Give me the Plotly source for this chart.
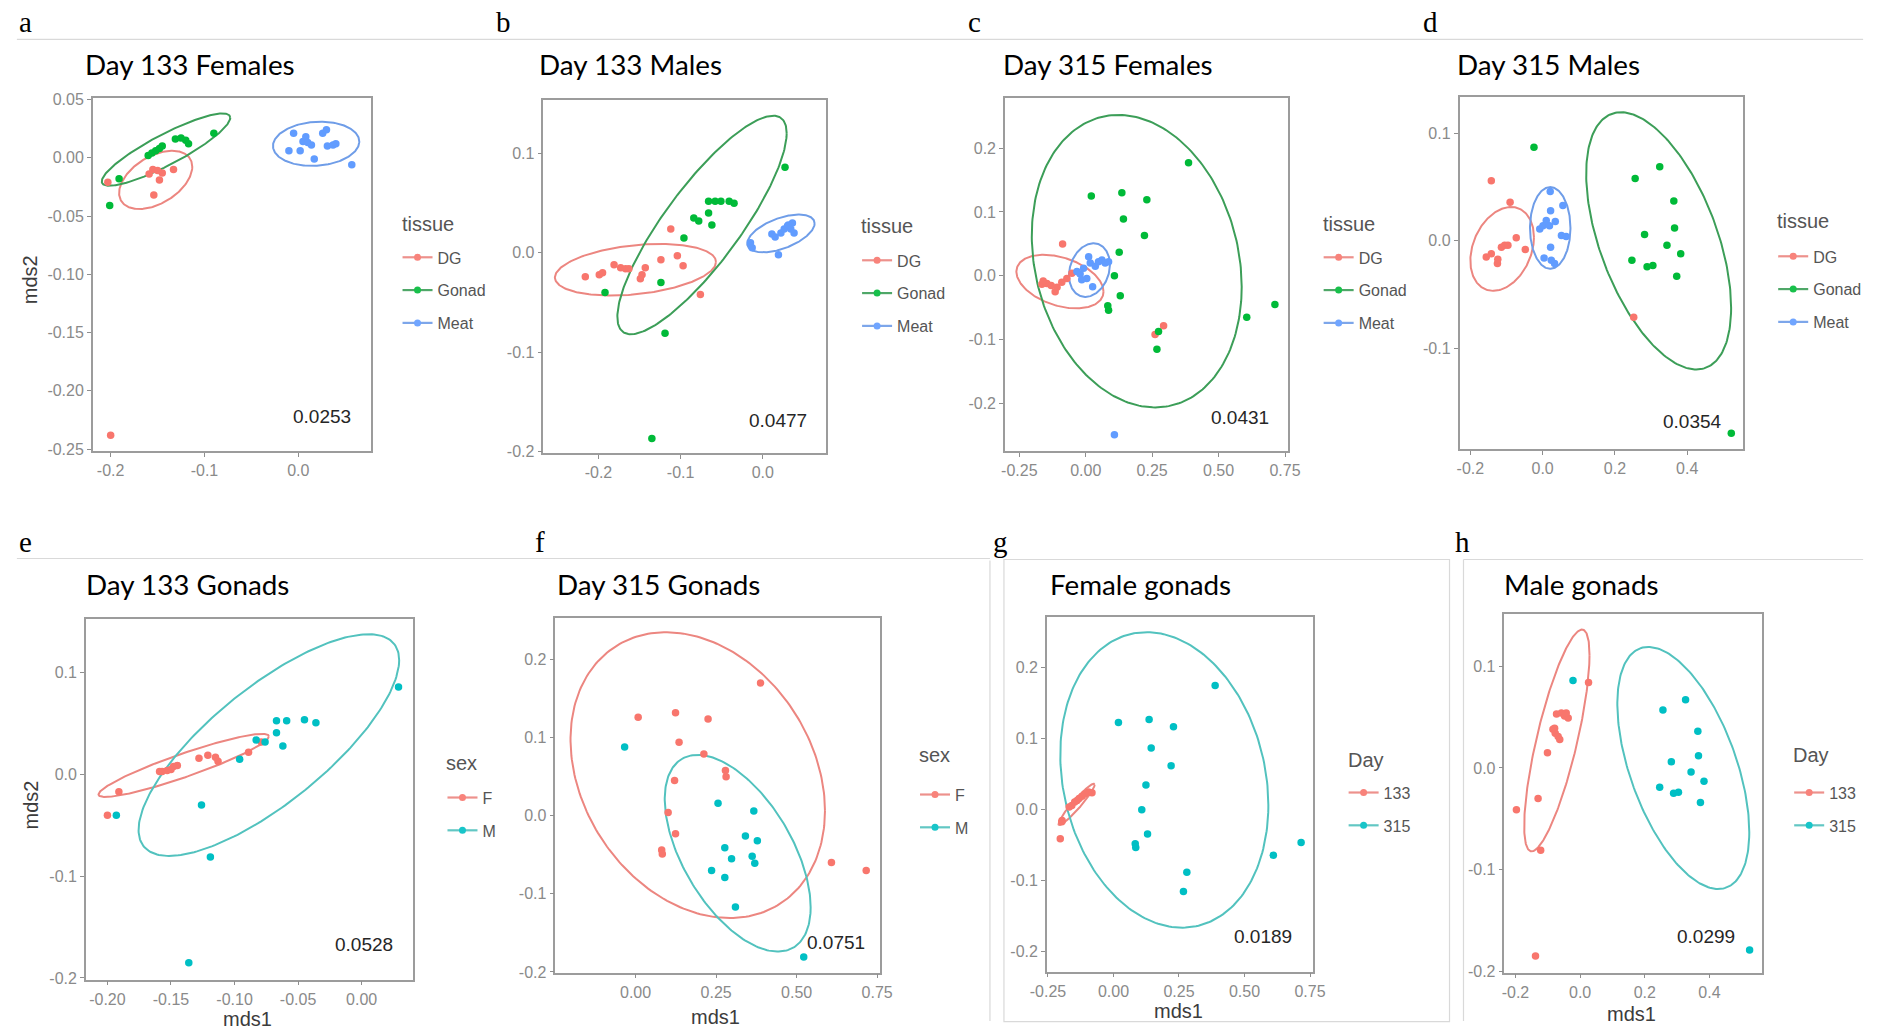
import numpy as np
import plotly.graph_objects as go

W, H = 1881, 1029
# positions below are given on a page grid that is scaled by GRID_SCALE about the page centre
GRID_SCALE = 0.985

RED = "#F8766D"
GREEN = "#00BA38"
BLUE = "#619CFF"
CYAN = "#00BFC4"
# outline tones used for the confidence ellipses and legend keys
RED_LINE = "#EC8680"
GREEN_LINE = "#3C9E58"
BLUE_LINE = "#6F9DE8"
CYAN_LINE = "#52C2BE"

# ---------------- Panel a: Day 133 Females ----------------
A_DG_X = [-0.203, -0.159, -0.155, -0.150, -0.148, -0.145, -0.133, -0.154, -0.200]
A_DG_Y = [-0.021, -0.014, -0.010, -0.011, -0.019, -0.013, -0.010, -0.032, -0.238]
A_GONAD_X = [-0.201, -0.191, -0.160, -0.156, -0.152, -0.148, -0.145, -0.131, -0.125, -0.120, -0.117, -0.090]
A_GONAD_Y = [-0.041, -0.018, 0.002, 0.004, 0.006, 0.008, 0.010, 0.016, 0.017, 0.015, 0.012, 0.021]
A_MEAT_X = [-0.010, -0.005, 0.002, 0.005, 0.008, 0.010, 0.014, 0.017, 0.026, 0.030, 0.031, 0.037, 0.040, 0.057]
A_MEAT_Y = [0.006, 0.021, 0.006, 0.014, 0.018, 0.013, 0.011, -0.001, 0.021, 0.024, 0.010, 0.011, 0.012, -0.006]
# ellipse parameters: centre x, centre y, x half-extent, y half-extent, correlation
A_DG_ELL = (-0.152, -0.019, 0.039, 0.025, 0.45)
A_GONAD_ELL = (-0.141, 0.007, 0.0685, 0.031, 0.88)
A_MEAT_ELL = (0.019, 0.012, 0.046, 0.019, 0.10)

# ---------------- Panel b: Day 133 Males ----------------
B_DG_X = [-0.216, -0.199, -0.195, -0.181, -0.173, -0.167, -0.163, -0.149, -0.147, -0.143, -0.124, -0.112, -0.104, -0.097, -0.076]
B_DG_Y = [-0.024, -0.022, -0.020, -0.012, -0.015, -0.016, -0.016, -0.026, -0.022, -0.015, -0.007, 0.024, -0.003, -0.013, -0.042]
B_GONAD_X = [-0.192, -0.124, -0.096, -0.084, -0.078, -0.066, -0.062, -0.066, -0.058, -0.051, -0.041, -0.035, 0.027, -0.119, -0.135]
B_GONAD_Y = [-0.040, -0.030, 0.015, 0.035, 0.032, 0.040, 0.028, 0.052, 0.052, 0.052, 0.052, 0.050, 0.086, -0.081, -0.187]
B_MEAT_X = [-0.015, -0.013, 0.011, 0.015, 0.019, 0.022, 0.026, 0.030, 0.034, 0.036, 0.038, 0.031]
B_MEAT_Y = [0.010, 0.005, 0.019, 0.016, -0.002, 0.020, 0.024, 0.027, 0.024, 0.030, 0.020, 0.028]
B_DG_ELL = (-0.155, -0.017, 0.098, 0.026, 0.30)
B_GONAD_ELL = (-0.074, 0.028, 0.103, 0.110, 0.84)
B_MEAT_ELL = (0.022, 0.0195, 0.041, 0.019, 0.53)

# ---------------- Panel c: Day 315 Females ----------------
C_DG_X = [-0.087, -0.165, -0.146, -0.130, -0.108, -0.115, -0.090, -0.071, -0.052, -0.160, 0.261, 0.293]
C_DG_Y = [0.050, -0.013, -0.012, -0.015, -0.018, -0.025, -0.010, -0.004, 0.004, -0.008, -0.092, -0.078]
C_GONAD_X = [0.387, 0.021, 0.136, 0.230, 0.142, 0.221, 0.126, 0.108, 0.130, 0.083, 0.086, 0.274, 0.268, 0.606, 0.712]
C_GONAD_Y = [0.177, 0.125, 0.130, 0.119, 0.089, 0.063, 0.037, 0.000, -0.031, -0.047, -0.054, -0.087, -0.115, -0.065, -0.045]
C_MEAT_X = [-0.033, -0.021, -0.008, 0.004, 0.011, 0.017, 0.026, 0.036, 0.048, 0.061, 0.073, 0.086, -0.015, 0.108]
C_MEAT_Y = [0.007, 0.003, 0.012, -0.004, 0.030, 0.020, -0.017, 0.015, 0.022, 0.025, 0.020, 0.022, -0.006, -0.249]
C_DG_ELL = (-0.097, -0.009, 0.164, 0.042, -0.37)
C_GONAD_ELL = (0.192, 0.023, 0.395, 0.229, -0.175)
C_MEAT_ELL = (0.014, 0.009, 0.077, 0.042, 0.20)

# ---------------- Panel d: Day 315 Males ----------------
D_DG_X = [-0.142, -0.090, -0.156, -0.142, -0.125, -0.124, -0.114, -0.105, -0.096, -0.073, -0.048, 0.252]
D_DG_Y = [0.056, 0.036, -0.015, -0.012, -0.021, -0.017, -0.006, -0.004, -0.004, 0.003, -0.008, -0.071]
D_GONAD_X = [-0.024, 0.256, 0.324, 0.363, 0.365, 0.282, 0.344, 0.382, 0.247, 0.289, 0.305, 0.371, 0.522]
D_GONAD_Y = [0.087, 0.058, 0.069, 0.037, 0.012, 0.006, -0.004, -0.012, -0.018, -0.024, -0.023, -0.033, -0.179]
D_MEAT_X = [0.021, 0.056, 0.022, -0.008, 0.001, 0.010, 0.019, 0.035, 0.052, 0.065, 0.022, 0.004, 0.024, 0.033]
D_MEAT_Y = [0.046, 0.033, 0.028, 0.011, 0.014, 0.019, 0.014, 0.018, 0.005, 0.004, -0.006, -0.016, -0.018, -0.021]
D_DG_ELL = (-0.112, -0.0075, 0.088, 0.039, 0.28)
D_GONAD_ELL = (0.321, 0.000, 0.2005, 0.1196, -0.52)
D_MEAT_ELL = (0.021, 0.012, 0.056, 0.038, 0.0)

# ---------------- Panel e: Day 133 Gonads ----------------
E_F_X = [-0.200, -0.191, -0.159, -0.157, -0.153, -0.150, -0.148, -0.145, -0.128, -0.121, -0.115, -0.113, -0.089, -0.079]
E_F_Y = [-0.040, -0.017, 0.003, 0.003, 0.004, 0.005, 0.008, 0.009, 0.016, 0.019, 0.017, 0.013, 0.022, 0.032]
E_M_X = [-0.193, -0.126, -0.119, -0.136, -0.096, -0.083, -0.076, -0.067, -0.067, -0.059, -0.062, -0.045, -0.036, 0.029]
E_M_Y = [-0.040, -0.030, -0.081, -0.185, 0.015, 0.034, 0.032, 0.041, 0.053, 0.053, 0.028, 0.054, 0.051, 0.086]
E_F_ELL = (-0.140, 0.009, 0.067, 0.031, 0.92)
E_M_ELL = (-0.073, 0.029, 0.1025, 0.109, 0.765)

# ---------------- Panel f: Day 315 Gonads ----------------
F_F_X = [0.008, 0.124, 0.225, 0.388, 0.135, 0.212, 0.279, 0.281, 0.121, 0.101, 0.124, 0.081, 0.083, 0.608, 0.716]
F_F_Y = [0.126, 0.132, 0.124, 0.170, 0.094, 0.079, 0.058, 0.050, 0.045, 0.004, -0.023, -0.044, -0.049, -0.060, -0.070]
F_M_X = [-0.034, 0.256, 0.367, 0.341, 0.378, 0.277, 0.298, 0.362, 0.370, 0.236, 0.277, 0.310, 0.522]
F_M_Y = [0.088, 0.016, 0.006, -0.026, -0.032, -0.041, -0.055, -0.052, -0.061, -0.070, -0.079, -0.117, -0.181]
F_F_ELL = (0.193, 0.052, 0.395, 0.183, -0.25)
F_M_ELL = (0.317, -0.048, 0.2265, 0.126, -0.55)

# ---------------- Panel g: Female gonads ----------------
G_133_X = [-0.203, -0.197, -0.196, -0.169, -0.159, -0.148, -0.139, -0.131, -0.120, -0.110, -0.095, -0.082]
G_133_Y = [-0.041, -0.017, -0.015, 0.004, 0.006, 0.011, 0.013, 0.016, 0.019, 0.022, 0.025, 0.024]
G_315_X = [0.019, 0.136, 0.229, 0.388, 0.144, 0.220, 0.124, 0.108, 0.130, 0.083, 0.085, 0.280, 0.267, 0.610, 0.716]
G_315_Y = [0.123, 0.127, 0.117, 0.175, 0.087, 0.062, 0.035, 0.000, -0.034, -0.048, -0.053, -0.088, -0.115, -0.064, -0.046]
G_133_ELL = (-0.141, 0.0075, 0.069, 0.029, 0.95)
G_315_ELL = (0.194, 0.042, 0.397, 0.208, -0.17)

# ---------------- Panel h: Male gonads ----------------
H_133_X = [-0.197, -0.130, -0.122, -0.138, -0.101, -0.084, -0.077, -0.068, -0.063, -0.079, -0.073, -0.058, -0.048, -0.037, -0.043, 0.026]
H_133_Y = [-0.041, -0.030, -0.081, -0.185, 0.015, 0.038, 0.034, 0.031, 0.028, 0.039, 0.053, 0.054, 0.051, 0.049, 0.054, 0.084]
H_315_X = [-0.022, 0.256, 0.326, 0.364, 0.366, 0.282, 0.343, 0.383, 0.246, 0.289, 0.304, 0.372, 0.524]
H_315_Y = [0.086, 0.057, 0.067, 0.036, 0.012, 0.006, -0.004, -0.013, -0.019, -0.025, -0.024, -0.034, -0.179]
H_133_ELL = (-0.072, 0.027, 0.101, 0.109, 0.77)
H_315_ELL = (0.319, 0.000, 0.204, 0.119, -0.53)

# tick values / labels
TICKS_X_A = [-0.2, -0.1, 0.0]
TICKS_X_A_TXT = ["-0.2", "-0.1", "0.0"]
TICKS_Y_A = [0.05, 0.0, -0.05, -0.10, -0.15, -0.20, -0.25]
TICKS_Y_A_TXT = ["0.05", "0.00", "-0.05", "-0.10", "-0.15", "-0.20", "-0.25"]
TICKS_Y_B = [-0.2, -0.1, 0.0, 0.1]
TICKS_Y_B_TXT = ["-0.2", "-0.1", "0.0", "0.1"]
TICKS_X_C = [-0.25, 0.0, 0.25, 0.5, 0.75]
TICKS_X_C_TXT = ["-0.25", "0.00", "0.25", "0.50", "0.75"]
TICKS_Y_C = [-0.2, -0.1, 0.0, 0.1, 0.2]
TICKS_Y_C_TXT = ["-0.2", "-0.1", "0.0", "0.1", "0.2"]
TICKS_X_D = [-0.2, 0.0, 0.2, 0.4]
TICKS_X_D_TXT = ["-0.2", "0.0", "0.2", "0.4"]
TICKS_Y_D = [-0.1, 0.0, 0.1]
TICKS_Y_D_TXT = ["-0.1", "0.0", "0.1"]
TICKS_X_E = [-0.20, -0.15, -0.10, -0.05, 0.0]
TICKS_X_E_TXT = ["-0.20", "-0.15", "-0.10", "-0.05", "0.00"]
TICKS_X_F = [0.0, 0.25, 0.5, 0.75]
TICKS_X_F_TXT = ["0.00", "0.25", "0.50", "0.75"]

# panel definitions: box in page pixels (x0, x1, y0, y1), axis ranges, ticks, groups
PANELS = [
    dict(box=(90, 368, 99, 452), xr=(-0.219, 0.077), yr=(-0.252, 0.051),
         xt=(TICKS_X_A, TICKS_X_A_TXT), yt=(TICKS_Y_A, TICKS_Y_A_TXT),
         title="Day 133 Females", tpos=(80, 65), letter="a", lpos=(14, 23),
         stat="0.0253", spos=(319, 417), legend_title="tissue", leg=(400, 225, 258),
         groups=[("DG", A_DG_X, A_DG_Y, A_DG_ELL, RED, RED_LINE),
                 ("Gonad", A_GONAD_X, A_GONAD_Y, A_GONAD_ELL, GREEN, GREEN_LINE),
                 ("Meat", A_MEAT_X, A_MEAT_Y, A_MEAT_ELL, BLUE, BLUE_LINE)]),
    dict(box=(541, 824, 101, 454), xr=(-0.267, 0.077), yr=(-0.202, 0.1535),
         xt=(TICKS_X_A, TICKS_X_A_TXT), yt=(TICKS_Y_B, TICKS_Y_B_TXT),
         title="Day 133 Males", tpos=(535, 65), letter="b", lpos=(492, 23),
         stat="0.0477", spos=(776, 421), legend_title="tissue", leg=(860, 227, 261),
         groups=[("DG", B_DG_X, B_DG_Y, B_DG_ELL, RED, RED_LINE),
                 ("Gonad", B_GONAD_X, B_GONAD_Y, B_GONAD_ELL, GREEN, GREEN_LINE),
                 ("Meat", B_MEAT_X, B_MEAT_Y, B_MEAT_ELL, BLUE, BLUE_LINE)]),
    dict(box=(1003, 1286, 99, 452), xr=(-0.304, 0.760), yr=(-0.275, 0.278),
         xt=(TICKS_X_C, TICKS_X_C_TXT), yt=(TICKS_Y_C, TICKS_Y_C_TXT),
         title="Day 315 Females", tpos=(999, 65), letter="c", lpos=(964, 23),
         stat="0.0431", spos=(1238, 418), legend_title="tissue", leg=(1322, 225, 258),
         groups=[("DG", C_DG_X, C_DG_Y, C_DG_ELL, RED, RED_LINE),
                 ("Gonad", C_GONAD_X, C_GONAD_Y, C_GONAD_ELL, GREEN, GREEN_LINE),
                 ("Meat", C_MEAT_X, C_MEAT_Y, C_MEAT_ELL, BLUE, BLUE_LINE)]),
    dict(box=(1458, 1742, 98, 450), xr=(-0.230, 0.555), yr=(-0.194, 0.1335),
         xt=(TICKS_X_D, TICKS_X_D_TXT), yt=(TICKS_Y_D, TICKS_Y_D_TXT),
         title="Day 315 Males", tpos=(1453, 65), letter="d", lpos=(1419, 23),
         stat="0.0354", spos=(1691, 422), legend_title="tissue", leg=(1777, 222, 257),
         groups=[("DG", D_DG_X, D_DG_Y, D_DG_ELL, RED, RED_LINE),
                 ("Gonad", D_GONAD_X, D_GONAD_Y, D_GONAD_ELL, GREEN, GREEN_LINE),
                 ("Meat", D_MEAT_X, D_MEAT_Y, D_MEAT_ELL, BLUE, BLUE_LINE)]),
    dict(box=(83, 410, 619, 980), xr=(-0.217, 0.040), yr=(-0.2017, 0.1534),
         xt=(TICKS_X_E, TICKS_X_E_TXT), yt=(TICKS_Y_B, TICKS_Y_B_TXT),
         title="Day 133 Gonads", tpos=(81, 585), letter="e", lpos=(14, 542),
         stat="0.0528", spos=(361, 945), legend_title="sex", leg=(445, 763, 798),
         groups=[("F", E_F_X, E_F_Y, E_F_ELL, RED, RED_LINE),
                 ("M", E_M_X, E_M_Y, E_M_ELL, CYAN, CYAN_LINE)]),
    dict(box=(553, 878, 618, 973), xr=(-0.249, 0.759), yr=(-0.201, 0.2538),
         xt=(TICKS_X_F, TICKS_X_F_TXT), yt=(TICKS_Y_C, TICKS_Y_C_TXT),
         title="Day 315 Gonads", tpos=(553, 585), letter="f", lpos=(531, 542),
         stat="0.0751", spos=(834, 943), legend_title="sex", leg=(918, 755, 795),
         groups=[("F", F_F_X, F_F_Y, F_F_ELL, RED, RED_LINE),
                 ("M", F_M_X, F_M_Y, F_M_ELL, CYAN, CYAN_LINE)]),
    dict(box=(1045, 1311, 617, 972), xr=(-0.254, 0.760), yr=(-0.228, 0.272),
         xt=(TICKS_X_C, TICKS_X_C_TXT), yt=(TICKS_Y_C, TICKS_Y_C_TXT),
         title="Female gonads", tpos=(1046, 585), letter="g", lpos=(989, 542),
         stat="0.0189", spos=(1261, 937), legend_title="Day", leg=(1347, 760, 793),
         groups=[("133", G_133_X, G_133_Y, G_133_ELL, RED, RED_LINE),
                 ("315", G_315_X, G_315_Y, G_315_ELL, CYAN, CYAN_LINE)]),
    dict(box=(1503, 1761, 614, 973), xr=(-0.234, 0.563), yr=(-0.2013, 0.1518),
         xt=(TICKS_X_D, TICKS_X_D_TXT), yt=(TICKS_Y_B, TICKS_Y_B_TXT),
         title="Male gonads", tpos=(1501, 585), letter="h", lpos=(1451, 542),
         stat="0.0299", spos=(1705, 937), legend_title="Day", leg=(1793, 755, 793),
         groups=[("133", H_133_X, H_133_Y, H_133_ELL, RED, RED_LINE),
                 ("315", H_315_X, H_315_Y, H_315_ELL, CYAN, CYAN_LINE)]),
]

CX, CY = W / 2, H / 2


def fx(p):
    """page-grid pixel x -> paper fraction"""
    return (CX + (p - CX) / GRID_SCALE) / W


def fy(p):
    """page-grid pixel y -> paper fraction"""
    return 1 - (CY + (p - CY) / GRID_SCALE) / H


def ellipse_path(cx, cy, ax, ay, rho, n=240):
    t = np.linspace(0, 2 * np.pi, n)
    x = cx + ax * np.cos(t)
    y = cy + ay * (rho * np.cos(t) + np.sqrt(1 - rho ** 2) * np.sin(t))
    return x, y


TICK_GREY = "#8e8e8e"
BORDER_GREY = "#9c9c9c"
TEXT_FONT = "Liberation Sans, Arial, sans-serif"
TICK_FONT = dict(family=TEXT_FONT, size=16, color="#8a8a8a")
LEGEND_GREY = "#555555"

fig = go.Figure()
layout = dict(width=W, height=H, margin=dict(l=0, r=0, t=0, b=0),
              paper_bgcolor="white", plot_bgcolor="white", showlegend=True)
annotations = []

for i, p in enumerate(PANELS, start=1):
    sfx = "" if i == 1 else str(i)
    xa, ya = "x" + sfx, "y" + sfx
    leg_id = "legend" + sfx
    x0, x1, y0, y1 = p["box"]
    common = dict(showgrid=False, zeroline=False, showline=True, mirror=True,
                  linecolor=BORDER_GREY, linewidth=1.5, ticks="outside", ticklen=4,
                  tickwidth=1.4, tickcolor=TICK_GREY, tickfont=TICK_FONT, fixedrange=True)
    layout["xaxis" + sfx] = dict(common, domain=[fx(x0), fx(x1)], range=list(p["xr"]),
                                 anchor=ya, tickmode="array", tickvals=p["xt"][0],
                                 ticktext=p["xt"][1])
    layout["yaxis" + sfx] = dict(common, domain=[fy(y1), fy(y0)], range=list(p["yr"]),
                                 anchor=xa, tickmode="array", tickvals=p["yt"][0],
                                 ticktext=p["yt"][1])

    # ellipses first, points on top
    for name, gx, gy, ell, col, lcol in p["groups"]:
        ex, ey = ellipse_path(*ell)
        fig.add_trace(go.Scatter(x=ex, y=ey, mode="lines", xaxis=xa, yaxis=ya,
                                 line=dict(color=lcol, width=2),
                                 showlegend=False, hoverinfo="skip"))
    for name, gx, gy, ell, col, lcol in p["groups"]:
        fig.add_trace(go.Scatter(x=gx, y=gy, mode="markers", xaxis=xa, yaxis=ya,
                                 marker=dict(color=col, size=7.5), showlegend=False,
                                 name=name))
    # legend keys (point + line, as in the ellipse plots)
    for name, gx, gy, ell, col, lcol in p["groups"]:
        fig.add_trace(go.Scatter(x=[None], y=[None], mode="lines+markers", xaxis=xa, yaxis=ya,
                                 line=dict(color=lcol, width=2.2), opacity=0.9,
                                 marker=dict(color=col, size=7), name=name,
                                 legendgroup=f"{i}-{name}", legend=leg_id, showlegend=True))

    kx, ty_leg, first_item = p["leg"]
    layout[leg_id] = dict(x=fx(kx - 5), y=fy(first_item - 17), xanchor="left", yanchor="top",
                          bgcolor="rgba(0,0,0,0)", borderwidth=0,
                          font=dict(family=TEXT_FONT, size=16, color=LEGEND_GREY),
                          itemwidth=30, tracegroupgap=9, traceorder="grouped")
    annotations.append(dict(text=p["legend_title"], x=fx(kx - 3), y=fy(ty_leg), xref="paper",
                            yref="paper", xanchor="left", yanchor="middle", showarrow=False,
                            font=dict(family=TEXT_FONT, size=20, color=LEGEND_GREY)))

    tx, ty = p["tpos"]
    annotations.append(dict(text=p["title"], x=fx(tx), y=fy(ty), xref="paper", yref="paper",
                            xanchor="left", yanchor="middle", showarrow=False,
                            font=dict(family="Lato, Carlito, sans-serif", size=27.8, color="black")))
    lxp, lyp = p["lpos"]
    annotations.append(dict(text=p["letter"], x=fx(lxp), y=fy(lyp), xref="paper", yref="paper",
                            xanchor="left", yanchor="middle", showarrow=False,
                            font=dict(family="Liberation Serif, Times New Roman, serif", size=29,
                                      color="black")))
    sx, sy = p["spos"]
    annotations.append(dict(text=p["stat"], x=fx(sx), y=fy(sy), xref="paper", yref="paper",
                            xanchor="center", yanchor="middle", showarrow=False,
                            font=dict(family=TEXT_FONT, size=19, color="#262626")))

# axis titles
AXIS_TITLE_FONT = dict(family=TEXT_FONT, size=20, color="#3c3c3c")
for txt, x, y, ang in [("mds2", 28, 280, -90), ("mds2", 28, 805, -90),
                       ("mds1", 245, 1019, 0), ("mds1", 713, 1017, 0),
                       ("mds1", 1177, 1011, 0), ("mds1", 1630, 1014, 0)]:
    annotations.append(dict(text=txt, x=fx(x), y=fy(y), xref="paper", yref="paper",
                            xanchor="center", yanchor="middle", textangle=ang,
                            showarrow=False, font=AXIS_TITLE_FONT))

# rules separating the panel rows and framing the lower-right panels
RULE = dict(color="#d9d9d9", width=1.2)
shapes = [
    dict(type="line", xref="paper", yref="paper", x0=fx(14), x1=fx(1862), y0=fy(40), y1=fy(40), line=RULE),
    dict(type="line", xref="paper", yref="paper", x0=fx(14), x1=fx(988), y0=fy(559), y1=fy(559), line=RULE),
    dict(type="line", xref="paper", yref="paper", x0=fx(988), x1=fx(988), y0=fy(561), y1=0, line=RULE),
    dict(type="rect", xref="paper", yref="paper", x0=fx(1002), x1=fx(1448), y0=fy(1022), y1=fy(560), line=RULE),
    dict(type="line", xref="paper", yref="paper", x0=fx(1462), x1=fx(1862), y0=fy(560), y1=fy(560), line=RULE),
    dict(type="line", xref="paper", yref="paper", x0=fx(1462), x1=fx(1462), y0=fy(560), y1=0, line=RULE),
]

layout["annotations"] = annotations
layout["shapes"] = shapes
fig.update_layout(**layout)

fig.write_html("out.html", config={"displayModeBar": False})
